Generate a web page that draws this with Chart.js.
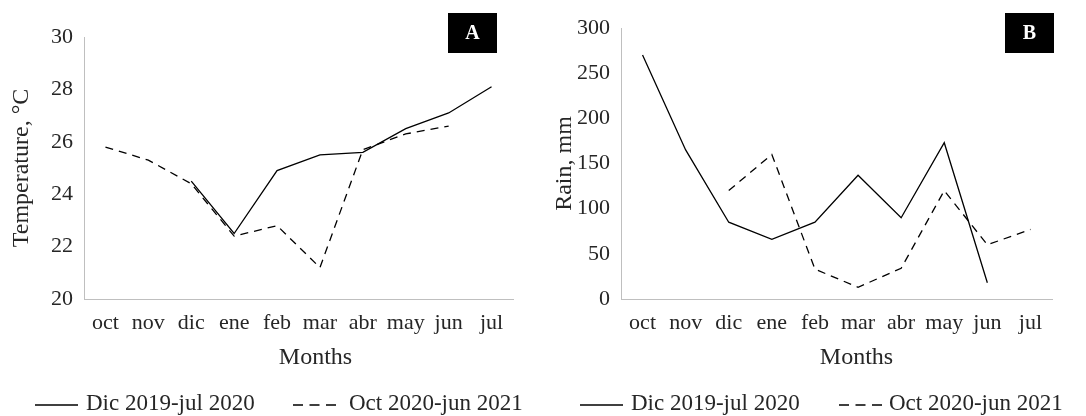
<!DOCTYPE html>
<html>
<head>
<meta charset="utf-8">
<script src="https://cdn.jsdelivr.net/npm/chart.js@4.4.1/dist/chart.umd.min.js"></script>
<style>
    body { margin: 0; background: #fff; }
    .fila { display: flex; width: 1086px; height: 416px; }
    .panel { position: relative; width: 543px; height: 416px; }
</style>
</head>
<body>
<div class="fila">
    <div class="panel"><canvas id="tempGrafik" width="543" height="416"></canvas></div>
    <div class="panel"><canvas id="lluviaGrafik" width="543" height="416"></canvas></div>
</div>
<script>
// Datos
const meses = ["oct", "nov", "dic", "ene", "feb", "mar", "abr", "may", "jun", "jul"];
const periodos = ["Dic 2019-jul 2020", "Oct 2020-jun 2021"];

const temp1920 = [null, null, 24.5, 22.5, 24.9, 25.5, 25.6, 26.5, 27.1, 28.1];
const temp2021 = [25.8, 25.3, 24.4, 22.4, 22.8, 21.2, 25.7, 26.3, 26.6, null];

const lluvia1920 = [270, 165, 85, 66, 85, 137, 90, 173, 18, null];
const lluvia2021 = [null, null, 120, 160, 33, 13, 34, 120, 60, 77];

const tempTicks = [20, 22, 24, 26, 28, 30];
const lluviaTicks = [0, 50, 100, 150, 200, 250, 300];

const FUENTE = "'Liberation Serif', 'DejaVu Serif', serif";
const TEXTO = "#262626";

// Etiqueta de panel (A / B)
const etiquetaPanel = {
    id: "etiquetaPanel",
    afterDraw(chart, args, opts) {
        const ctx = chart.ctx;
        ctx.save();
        ctx.fillStyle = "#000";
        ctx.fillRect(opts.x, opts.y, 49, 40);
        ctx.fillStyle = "#fff";
        ctx.font = "bold 20px " + FUENTE;
        ctx.textAlign = "center";
        ctx.textBaseline = "middle";
        ctx.fillText(opts.texto, opts.x + 24.5, opts.y + 21);
        ctx.restore();
    }
};

// Título del eje X (un poco a la derecha del centro, como en el original)
const tituloX = {
    id: "tituloX",
    afterDraw(chart, args, opts) {
        const { ctx, chartArea } = chart;
        ctx.save();
        ctx.fillStyle = TEXTO;
        ctx.font = "24px " + FUENTE;
        ctx.textAlign = "center";
        ctx.textBaseline = "middle";
        ctx.fillText(opts.texto, (chartArea.left + chartArea.right) / 2 + opts.dx, opts.y);
        ctx.restore();
    }
};

// Leyenda propia: muestra de línea + nombre de cada serie
const leyenda = {
    id: "leyenda",
    afterDraw(chart, args, opts) {
        const ctx = chart.ctx;
        ctx.save();
        ctx.font = "23px " + FUENTE;
        ctx.textBaseline = "middle";
        chart.data.datasets.forEach((ds, i) => {
            const item = opts.items[i];
            ctx.strokeStyle = ds.borderColor;
            ctx.lineWidth = ds.borderWidth;
            ctx.setLineDash(ds.borderDash ? [10, 6.5] : []);
            ctx.beginPath();
            ctx.moveTo(item.x, opts.y);
            ctx.lineTo(item.x + 43, opts.y);
            ctx.stroke();
            ctx.fillStyle = TEXTO;
            ctx.fillText(ds.label, item.x + 43 + item.gap, opts.y - 1);
        });
        ctx.restore();
    }
};

function crearGrafico(id, serie1, serie2, ticks, tituloY, cfg) {
    const ctx = document.getElementById(id).getContext("2d");
    new Chart(ctx, {
        type: "line",
        data: {
            labels: meses,
            datasets: [
                {
                    label: periodos[0],
                    data: serie1,
                    borderColor: "#000",
                    backgroundColor: "#000",
                    borderWidth: 1.3,
                    pointRadius: 0,
                    tension: 0,
                },
                {
                    label: periodos[1],
                    data: serie2,
                    borderColor: "#000",
                    backgroundColor: "#000",
                    borderWidth: 1.3,
                    borderDash: [8, 6],
                    pointRadius: 0,
                    tension: 0,
                },
            ],
        },
        options: {
            responsive: false,
            animation: false,
            layout: { padding: cfg.padding },
            plugins: {
                tooltip: { enabled: false },
                legend: { display: false },
                leyenda: { y: 405, items: cfg.leyenda },
                etiquetaPanel: cfg.etiqueta,
                tituloX: { texto: "Months", dx: cfg.dxTitulo, y: 358 },
            },
            scales: {
                x: {
                    offset: true,
                    grid: { display: false, drawTicks: false },
                    border: { display: true, color: "#bfbfbf", width: 1 },
                    ticks: {
                        color: TEXTO,
                        font: { family: FUENTE, size: 22 },
                        padding: 11,
                        maxRotation: 0,
                        autoSkip: false,
                    },
                    afterFit: (scale) => { scale.height = 57; },
                },
                y: {
                    min: ticks[0],
                    max: ticks[ticks.length - 1],
                    afterBuildTicks: (scale) => { scale.ticks = ticks.map((v) => ({ value: v })); },
                    grid: { display: false, drawTicks: false },
                    border: { display: true, color: "#bfbfbf", width: 1 },
                    ticks: {
                        color: TEXTO,
                        font: { family: FUENTE, size: 22 },
                        padding: 11,
                    },
                    title: {
                        display: true,
                        text: tituloY,
                        color: TEXTO,
                        font: { family: FUENTE, size: 24 },
                        padding: { top: 7, bottom: 0 },
                    },
                    afterFit: (scale) => { scale.width = cfg.anchoY; },
                },
            },
        },
        plugins: [etiquetaPanel, tituloX, leyenda],
    });
}

crearGrafico("tempGrafik", temp1920, temp2021, tempTicks, "Temperature, °C", {
    padding: { top: 37, right: 30, bottom: 60, left: 0 },
    anchoY: 84,
    dxTitulo: 17,
    etiqueta: { texto: "A", x: 448, y: 13 },
    leyenda: [{ x: 35, gap: 8 }, { x: 293, gap: 13 }],
});

crearGrafico("lluviaGrafik", lluvia1920, lluvia2021, lluviaTicks, "Rain, mm", {
    padding: { top: 28, right: 34, bottom: 60, left: 0 },
    anchoY: 78,
    dxTitulo: 20,
    etiqueta: { texto: "B", x: 462, y: 13 },
    leyenda: [{ x: 37, gap: 8 }, { x: 296, gap: 7 }],
});
</script>
</body>
</html>
